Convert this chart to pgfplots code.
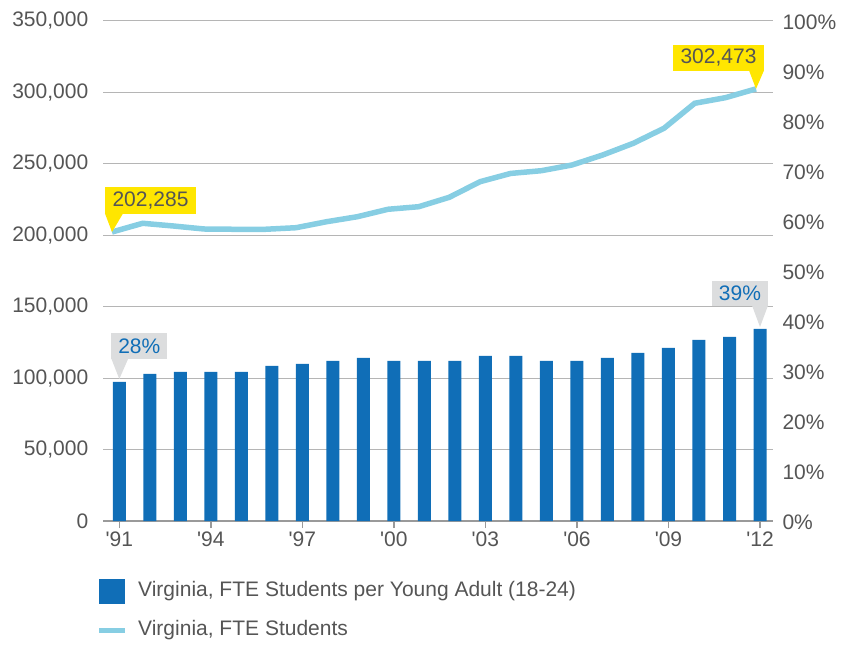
\documentclass[border=0pt]{standalone}
\usepackage{pgfplots}
\pgfplotsset{compat=1.18}
\usetikzlibrary{calc}
\usepackage{fontspec}
\setmainfont{Liberation Sans}
\definecolor{barblue}{HTML}{106EB7}
\definecolor{lineblue}{HTML}{87CEE3}
\definecolor{callyellow}{HTML}{FFE600}
\definecolor{callgray}{HTML}{DCDDDE}
\definecolor{txtgray}{HTML}{555555}
\definecolor{gridgray}{HTML}{B5B5B5}
\definecolor{axisgray}{HTML}{9A9A9A}
\newcommand{\fs}{\fontsize{21}{24}\selectfont}

\pgfplotstableread{
year pct
1991 27.8
1992 29.4
1993 29.8
1994 29.8
1995 29.8
1996 31.0
1997 31.4
1998 32.0
1999 32.6
2000 32.0
2001 32.0
2002 32.0
2003 33.0
2004 33.0
2005 32.0
2006 32.0
2007 32.6
2008 33.6
2009 34.6
2010 36.2
2011 36.8
2012 38.4
}\bartable

\pgfplotstableread{
year fte
1991 202285
1992 208400
1993 206500
1994 204400
1995 204200
1996 204200
1997 205300
1998 209500
1999 213000
2000 218200
2001 220000
2002 226600
2003 237500
2004 243300
2005 245200
2006 249200
2007 256200
2008 264400
2009 274900
2010 292400
2011 296300
2012 302473
}\linetable

\begin{document}
\begin{tikzpicture}
\useasboundingbox (0pt,0pt) rectangle (850pt,645pt);

% Axis 1: grid, left ticks, x ticks
\begin{axis}[
  at={(103pt,124pt)}, anchor=south west,
  width=670pt, height=500pt, scale only axis,
  xmin=1990.466, xmax=2012.426,
  ymin=0, ymax=350000,
  axis x line*=bottom, axis y line*=left,
  x axis line style={axisgray, line width=2pt, -},
  y axis line style={draw=none},
  xtick={1991,1994,1997,2000,2003,2006,2009,2012},
  xticklabels={\textquotesingle91,\textquotesingle94,\textquotesingle97,\textquotesingle00,\textquotesingle03,\textquotesingle06,\textquotesingle09,\textquotesingle12},
  ytick={0,50000,100000,150000,200000,250000,300000,350000},
  scaled y ticks=false,
  yticklabel={\pgfmathprintnumber[fixed, precision=0, 1000 sep={,}, assume math mode=true]{\tick}},
  ymajorgrids, grid style={gridgray, line width=1pt},
  tick align=outside,
  xtick style={axisgray, line width=1.5pt},
  x tick style={/pgfplots/major tick length=7pt},
  ytick style={draw=none},
  y tick style={/pgfplots/major tick length=0pt},
  ticklabel style={font=\fs, text=txtgray},
  yticklabel style={xshift=-7pt},
  xticklabel style={yshift=-3pt},
]
\end{axis}

% Axis 2: bars on the right axis
\begin{axis}[
  at={(103pt,124pt)}, anchor=south west,
  width=670pt, height=500pt, scale only axis,
  xmin=1990.466, xmax=2012.426,
  ymin=0, ymax=100,
  axis x line=none, axis y line*=right,
  y axis line style={draw=none},
  ytick={0,10,...,100},
  yticklabel={\pgfmathprintnumber[fixed, precision=0, assume math mode=true]{\tick}\%},
  ytick style={draw=none},
  y tick style={/pgfplots/major tick length=0pt},
  ticklabel style={font=\fs, text=txtgray},
  yticklabel style={xshift=6pt, yshift=-1pt},
  clip=false,
]
\addplot[ybar, bar width=13pt, bar shift=0pt, fill=barblue, draw=none] table[x=year, y=pct] {\bartable};
\coordinate (b91) at (axis cs:1991,27.8);
\coordinate (b12) at (axis cs:2012,38.4);
\end{axis}

% Axis 3: line on left axis scale
\begin{axis}[
  at={(103pt,124pt)}, anchor=south west,
  width=670pt, height=500pt, scale only axis,
  xmin=1990.7066, xmax=2012.5543,
  ymin=0, ymax=350000,
  hide axis, clip=false,
]
\addplot[lineblue, line width=5.5pt, line join=miter] table[x=year, y=fte] {\linetable};
\coordinate (l91) at (axis cs:1991,202285);
\coordinate (l12) at (axis cs:2012,302473);
\end{axis}

% Callouts
\begin{scope}[shift={(l91)}]
  \fill[callyellow] (-7pt,18pt) rectangle (84pt,45pt);
  \fill[callyellow] (-7pt,18.5pt) -- (11pt,18.5pt) -- (0pt,0pt) -- cycle;
  \node[text=txtgray, font=\fs, inner sep=0pt] at (38.5pt,31.5pt) {202,285};
\end{scope}
\begin{scope}[shift={(l12)}]
  \fill[callyellow] (-83pt,18pt) rectangle (8pt,44pt);
  \fill[callyellow] (-7pt,18.5pt) -- (8pt,18.5pt) -- (0pt,0pt) -- cycle;
  \node[text=txtgray, font=\fs, inner sep=0pt] at (-37.5pt,31pt) {302,473};
\end{scope}
\begin{scope}[shift={($(b91)+(0pt,3pt)$)}]
  \fill[callgray] (-8pt,20pt) rectangle (48pt,46pt);
  \fill[callgray] (-8pt,20.5pt) -- (9pt,20.5pt) -- (0pt,0pt) -- cycle;
  \node[text=barblue, font=\fs, inner sep=0pt] at (20pt,33pt) {28\%};
\end{scope}
\begin{scope}[shift={($(b12)+(0pt,2pt)$)}]
  \fill[callgray] (-48pt,21pt) rectangle (8pt,46pt);
  \fill[callgray] (-8pt,21.5pt) -- (8pt,21.5pt) -- (0pt,0pt) -- cycle;
  \node[text=barblue, font=\fs, inner sep=0pt] at (-20pt,33.5pt) {39\%};
\end{scope}

% Legend
\fill[barblue] (99pt,41pt) rectangle (125pt,66pt);
\node[anchor=west, text=txtgray, font=\fs, inner sep=0pt] at (138pt,53.5pt) {Virginia, FTE Students per Young Adult (18-24)};
\draw[lineblue, line width=5pt] (99pt,15pt) -- (125pt,15pt);
\node[anchor=west, text=txtgray, font=\fs, inner sep=0pt] at (138pt,15pt) {Virginia, FTE Students};
\end{tikzpicture}
\end{document}
